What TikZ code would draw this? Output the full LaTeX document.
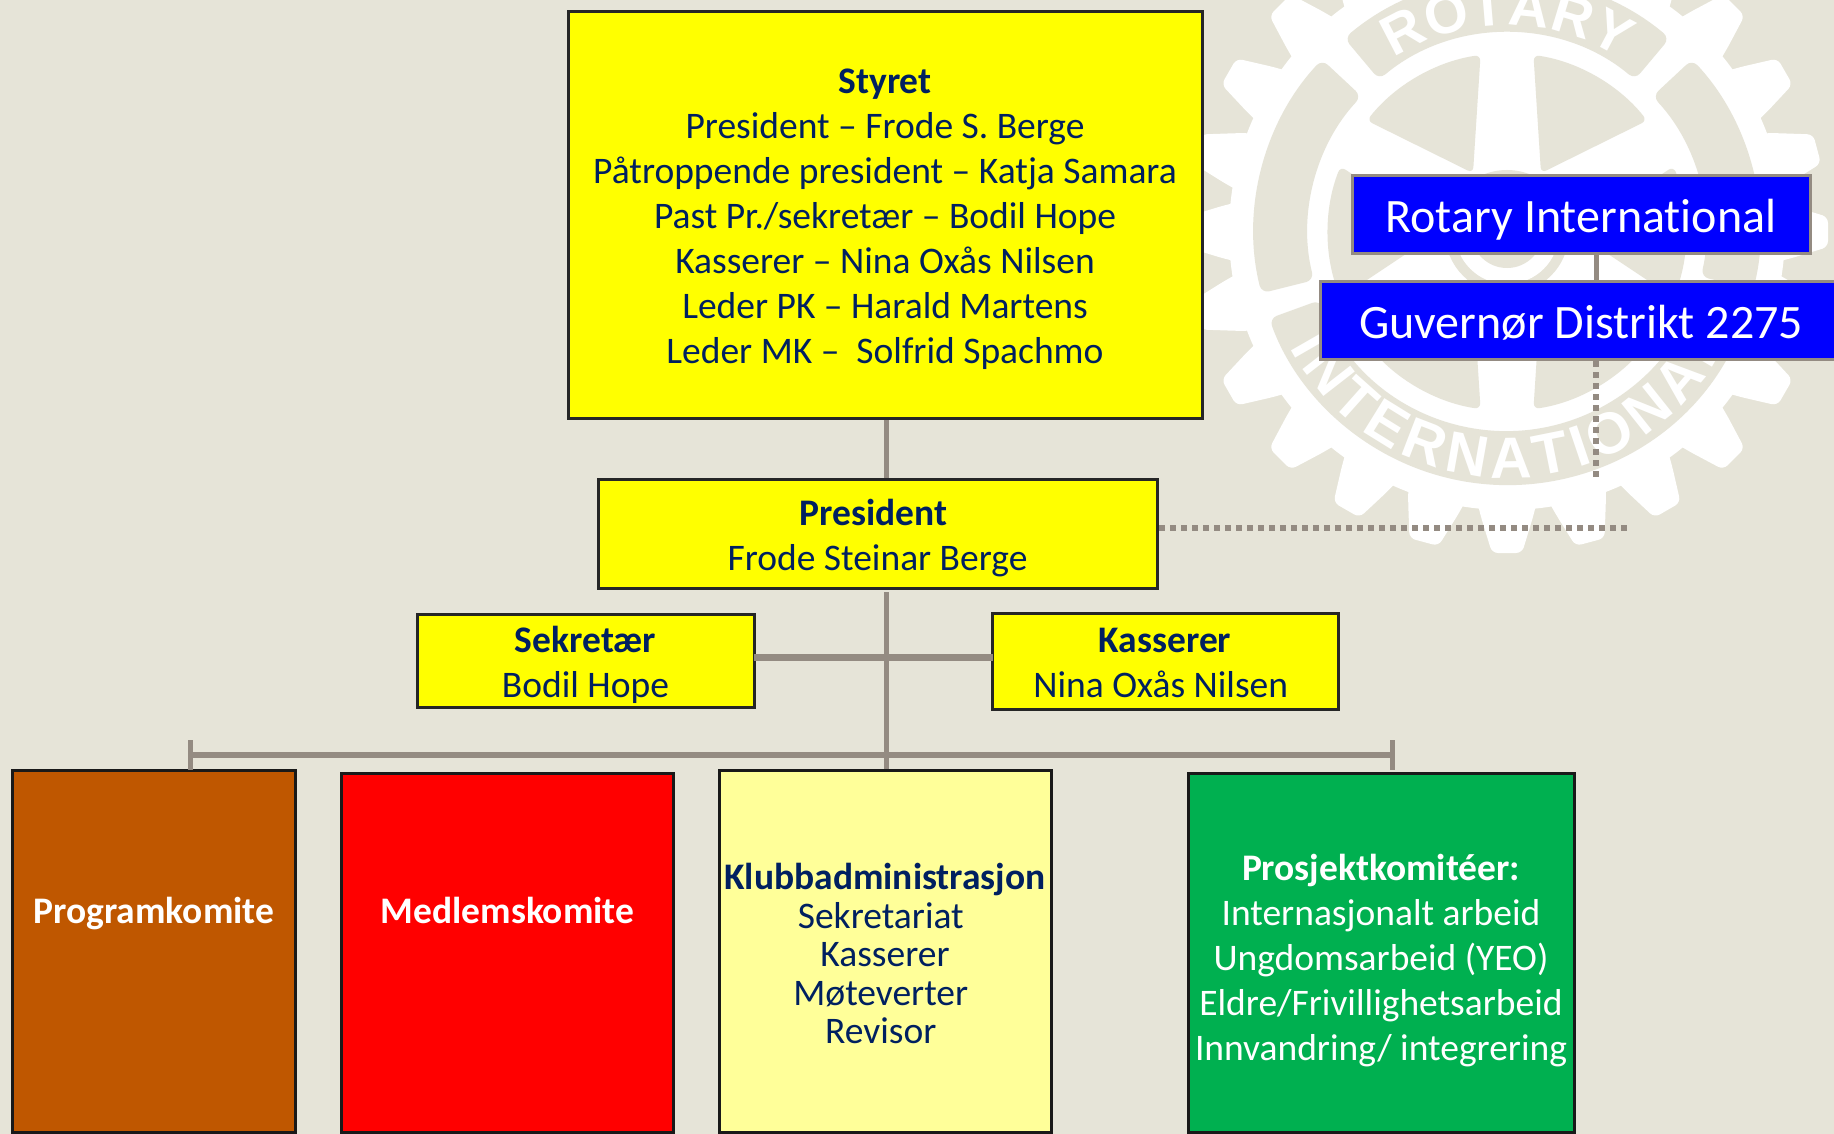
\documentclass[tikz,border=0pt]{standalone}
\usepackage{fontspec}
\setmainfont{Carlito}[Ligatures=NoCommon]
\newfontfamily\wheelfont{Liberation Sans}
\usetikzlibrary{decorations.text}
\definecolor{pagebg}{HTML}{E6E4D8}
\definecolor{navy}{HTML}{002060}
\definecolor{linegray}{HTML}{948B82}
\definecolor{boxyellow}{HTML}{FFFF00}
\definecolor{boxblue}{HTML}{0000FF}
\definecolor{boxred}{HTML}{FF0000}
\definecolor{progbrown}{HTML}{BF5700}
\definecolor{klubbyellow}{HTML}{FFFF99}
\definecolor{prosjgreen}{HTML}{00B050}
\newcommand{\topgap}[1]{\rule{0pt}{#1pt}}
\newcommand{\trail}{\kern8.5pt}

\tikzset{
	yellowbox/.style={draw=black!85, line width=3pt, fill=boxyellow, text=navy, align=center, inner sep=0pt, font=\fontsize{37.5}{45}\selectfont},
	bluebox/.style={draw=linegray, line width=3pt, fill=boxblue, text=white, inner sep=0pt, font=\fontsize{48}{50}\selectfont},
	lowbox/.style={draw=black!90, line width=3pt, inner sep=0pt, align=center, font=\fontsize{37.5}{45}\selectfont},
	link/.style={draw=linegray, line width=5pt},
	dotlink/.style={draw=linegray, line width=5.5pt, dash pattern=on 6pt off 5pt},
	wheeltext/.style 2 args={decorate, decoration={text along path, text align={fit to path}, text={|\wheelfont\bfseries\fontsize{#2}{#2}\selectfont\color{white}|#1}}}
}

\begin{document}
\begin{tikzpicture}[x=1pt, y=1pt]
	\useasboundingbox (0,0) rectangle (1834,-1134);
	\clip (0,0) rectangle (1834,-1134);
	\fill[pagebg] (0,0) rectangle (1834,-1134);

	% wheel behind the boxes
	\begin{scope}[shift={(1507,-232)}]
		\fill[white] (0,0) circle (278);
		\foreach \a in {0,15,...,345}
			\fill[white, rotate=\a, rounded corners=6pt] (265,-31) -- (285,-26) -- (321,-15) -- (321,15) -- (285,26) -- (265,31) -- cycle;
		\foreach \s/\e in {50/130,137/194,200/340,347/403}
			\fill[pagebg, rounded corners=8pt] (\s:199) arc[start angle=\s, end angle=\e, radius=199] -- (\e:253) arc[start angle=\e, end angle=\s, radius=253] -- cycle;
		\foreach \a in {0,60,...,300}
			\fill[pagebg, rotate=\a, rounded corners=6pt] (68,0) -- (21.5:179) arc[start angle=21.5, end angle=-21.5, radius=179] -- cycle;
		\fill[pagebg] (0,0) circle (62);
		\fill[white] (0,0) circle (52);
		\fill[pagebg] (0,0) circle (36);
		\path[wheeltext={ROTARY}{56}] (123:207) arc[start angle=123, end angle=57, radius=207];
		\path[wheeltext={INTERNATIONAL}{58}] (208:246) arc[start angle=208, end angle=334, radius=246];
	\end{scope}

	\node[yellowbox, minimum width=634, minimum height=407] (styret) at (885,-215) {\topgap{33}\textbf{Styret}\\President – Frode S. Berge\\Påtroppende president – Katja Samara\\Past Pr./sekretær – Bodil Hope\\Kasserer – Nina Oxås Nilsen\\Leder PK – Harald Martens\\Leder MK – ~Solfrid Spachmo};
	\node[yellowbox, minimum width=559, minimum height=109] (president) at (877.5,-534) {\topgap{34}\textbf{President}\trail\\Frode Steinar Berge};
	\node[yellowbox, minimum width=337, minimum height=93] (sekretaer) at (585.5,-661) {\topgap{34}\textbf{Sekretær}\\Bodil Hope};
	\node[yellowbox, minimum width=346, minimum height=96] (kasserer) at (1165,-661.5) {\topgap{28}\textbf{Kasserer}\\Nina Oxås Nilsen\trail};

	\node[bluebox, minimum width=458, minimum height=78] (rotary) at (1581,-214.5) {\topgap{44}Rotary International};
	\node[bluebox, minimum width=522, minimum height=78] (guvernor) at (1581,-320.5) {\topgap{37}Guvernør Distrikt 2275};

	\node[lowbox, fill=progbrown, minimum width=283, minimum height=362] (program) at (153.5,-951) {};
	\node[lowbox, fill=boxred, minimum width=332, minimum height=359] (medlem) at (507,-952.5) {};
	\node[lowbox, fill=klubbyellow, text=navy, minimum width=332, minimum height=362, font=\fontsize{37.5}{38.5}\selectfont] (klubb) at (885,-951) {\topgap{32}\textbf{Klubbadministrasjon}\\Sekretariat\trail\\Kasserer\\Møteverter\trail\\Revisor\trail};
	\node[lowbox, fill=prosjgreen, text=white, minimum width=386, minimum height=359] (prosjekt) at (1381,-952.5) {\topgap{42}\textbf{Prosjektkomitéer:}\\Internasjonalt arbeid\\Ungdomsarbeid (YEO)\\Eldre/Frivillighetsarbeid\\Innvandring/ integrering};
	\node[text=white, font=\fontsize{37.5}{45}\selectfont\bfseries] (programlabel) at (154,-914) {Programkomite};
	\node[text=white, font=\fontsize{37.5}{45}\selectfont\bfseries] (medlemlabel) at (507.5,-910) {Medlemskomite};

	\coordinate (midleft) at (754,-657);
	\coordinate (midright) at (993,-657);
	\coordinate (stem) at (886,-592);
	\coordinate (busleft) at (190,-755);
	\coordinate (busright) at (1392,-755);
	\coordinate (dotend) at (1627,-528);
	\coordinate (dotstart) at (1159,-528);
	\coordinate (distrikttop) at (1596,-254);
	\coordinate (distriktend) at (1596,-479);

	\draw[link] (styret.south -| stem) -- (president.north -| stem);
	\draw[link] (stem) -- (klubb.north -| stem);
	\draw[link, line width=7pt] (midleft) -- (midright);
	\draw[link, line width=6pt] (busleft) -- (busright);
	\draw[link] ([yshift=15]busleft) -- ([yshift=-15]busleft);
	\draw[link] ([yshift=15]busright) -- ([yshift=-15]busright);
	\draw[link] (distrikttop) -- (guvernor.north -| distrikttop);
	\draw[dotlink] (guvernor.south -| distriktend) -- (distriktend);
	\draw[dotlink] (dotstart) -- (dotend);
\end{tikzpicture}
\end{document}
